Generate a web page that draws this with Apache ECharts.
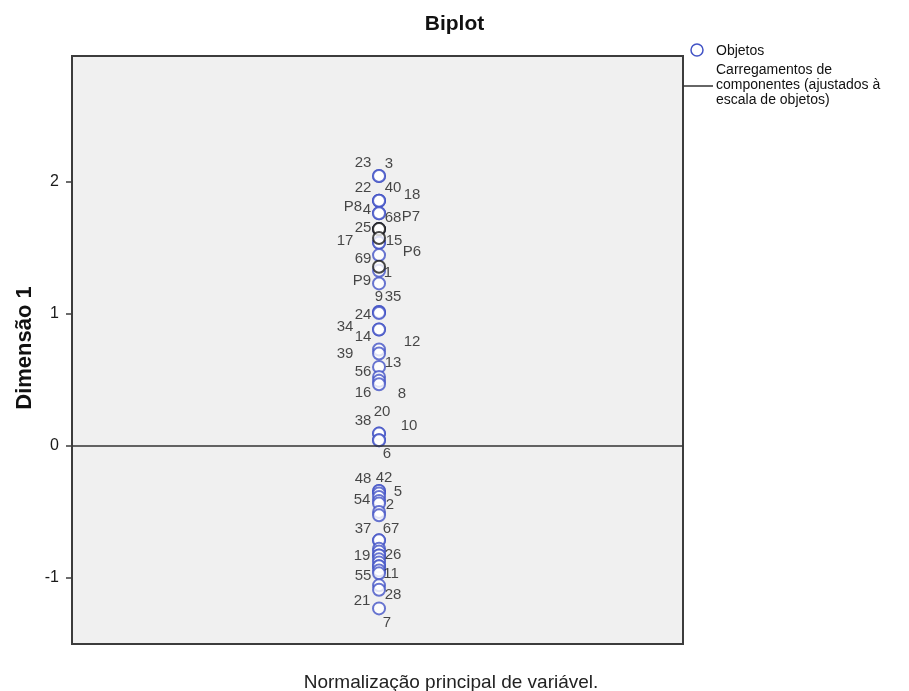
<!DOCTYPE html>
<html>
<head>
<meta charset="utf-8">
<script src="https://cdn.jsdelivr.net/npm/echarts@6/dist/echarts.min.js"></script>
<style>html,body{margin:0;padding:0;background:#fff;}#c{width:909px;height:691px;}</style>
</head>
<body>
<div id="c"></div>
<script>
// ---- data ----
var objLabels = ['3','23','22','40','18','4','68','25','17','15','69','1','9','35','24','','34','14','12','39','13','56','8','16','20','38','10','6','48','42','','5','54','','2','','37','67','','','19','26','','','55','11','','','28','21','7'];
var objY = [2.045,2.045,1.857,1.857,1.857,1.762,1.762,1.642,1.538,1.538,1.445,1.326,1.230,1.014,1.014,1.005,0.881,0.881,0.729,0.699,0.597,0.521,0.491,0.465,0.091,0.091,0.040,0.040,-0.345,-0.345,-0.364,-0.390,-0.421,-0.440,-0.504,-0.529,-0.719,-0.719,-0.782,-0.803,-0.833,-0.833,-0.863,-0.886,-0.916,-0.916,-0.947,-0.969,-1.060,-1.093,-1.235];
var objX = [0.005,0.005,0.005,0.005,0.005,0.005,0.005,0.005,0.005,0.005,0.005,0.005,0.005,0.005,0.005,0.005,0.005,0.005,0.005,0.005,0.005,0.005,0.005,0.005,0.005,0.005,0.005,0.005,0.005,0.005,0.005,0.005,0.005,0.005,0.005,0.005,0.005,0.005,0.005,0.005,0.005,0.005,0.005,0.005,0.005,0.005,0.005,0.005,0.005,0.005,0.005];
var loadLabels = ['P8','P7','P6','P9'];
var loadY = [1.642,1.642,1.574,1.356];
var loadX = [0.005,0.005,0.005,0.005];
var yTicks = [-1,0,1,2];

// ---- label placement (style only) ----
var objLabelOffsets = [[10,-12],[-16,-13],[-16,-13],[14,-13],[33,-6],[-12,-3],[14,5],[-16,-1],[-34,-2],[15,-2],[-16,4],[9,2],[0,13],[14,-15],[-16,3],[0,0],[-34,-3],[-16,7],[33,-8],[-34,0],[14,-4],[-16,-5],[23,13],[-16,9],[3,-22],[-16,-13],[30,-14],[8,14],[-16,-12],[5,-13],[0,0],[19,-5],[-17,-1],[0,0],[11,-7],[0,0],[-16,-12],[12,-12],[0,0],[0,0],[-17,0],[14,-1],[0,0],[0,0],[-16,10],[12,8],[0,0],[0,0],[14,10],[-17,11],[8,14]];
var loadLabelOffsets = [[-26,-22],[32,-12],[33,14],[-17,14]];

var FONT = 'Arial, "Liberation Sans", sans-serif';
var BLUE = '#4253c6';

function buildData(xs, ys, names, offs) {
  return ys.map(function (y, i) {
    return {
      name: names[i],
      value: [xs[i], y],
      label: { offset: offs[i] }
    };
  });
}

var chart = echarts.init(document.getElementById('c'), null, { renderer: 'canvas' });
chart.setOption({
  animation: false,
  backgroundColor: '#ffffff',
  title: {
    text: 'Biplot', left: 'center', top: 14, padding: 0,
    textStyle: { fontFamily: FONT, fontSize: 21, fontWeight: 'bold', color: '#111' }
  },
  grid: {
    left: 72, right: 226, top: 56, bottom: 47,
    show: true, backgroundColor: '#f0f0f0', borderColor: '#3c3c3c', borderWidth: 2
  },
  xAxis: {
    type: 'value', min: -1, max: 1,
    axisLine: { show: false, onZero: false }, axisTick: { show: false },
    axisLabel: { show: false }, splitLine: { show: false }
  },
  yAxis: {
    type: 'value', min: -1.505, max: 2.955,
    axisLine: { show: true, onZero: false, lineStyle: { color: '#3c3c3c', width: 2 } },
    axisTick: { show: true, length: 6, customValues: yTicks, lineStyle: { color: '#3c3c3c', width: 1.5 } },
    axisLabel: { customValues: yTicks, margin: 13, fontFamily: FONT, fontSize: 16, color: '#1a1a1a' },
    splitLine: { show: false }
  },
  series: [
    {
      name: 'Objetos',
      type: 'scatter',
      symbol: 'emptyCircle',
      symbolSize: 12,
      itemStyle: { color: BLUE, borderColor: BLUE, borderWidth: 1.5 },
      label: {
        show: true, position: 'inside', formatter: '{b}',
        fontFamily: FONT, fontSize: 15, color: '#1a1a1a', align: 'center', verticalAlign: 'middle'
      },
      data: buildData(objX, objY, objLabels, objLabelOffsets),
      markLine: {
        silent: true, symbol: 'none', label: { show: false },
        lineStyle: { color: '#333', width: 1.5, type: 'solid' },
        data: [{ yAxis: 0 }]
      },
      z: 3
    },
    {
      name: 'Carregamentos',
      type: 'scatter',
      symbol: 'emptyCircle',
      symbolSize: 12,
      itemStyle: { color: '#1a1a1a', borderColor: '#1a1a1a', borderWidth: 1.5 },
      label: {
        show: true, position: 'inside', formatter: '{b}',
        fontFamily: FONT, fontSize: 15, color: '#1a1a1a', align: 'center', verticalAlign: 'middle'
      },
      data: buildData(loadX, loadY, loadLabels, loadLabelOffsets),
      z: 4
    }
  ],
  graphic: [
    { type: 'circle', shape: { cx: 697, cy: 50, r: 6 }, style: { fill: 'none', stroke: BLUE, lineWidth: 1.5 } },
    { type: 'text', x: 716, y: 51, style: { text: 'Objetos', fontFamily: FONT, fontSize: 14, fill: '#111', verticalAlign: 'middle' } },
    { type: 'text', x: 716, y: 85, style: { text: 'Carregamentos de\ncomponentes (ajustados à\nescala de objetos)', fontFamily: FONT, fontSize: 14, lineHeight: 15, fill: '#111', verticalAlign: 'middle' } },
    { type: 'line', shape: { x1: 683, y1: 86, x2: 713, y2: 86 }, style: { stroke: '#333', lineWidth: 1.5 } },
    { type: 'text', x: 25, y: 348, rotation: Math.PI / 2, style: { text: 'Dimensão 1', fontFamily: FONT, fontSize: 22, fontWeight: 'bold', fill: '#111', align: 'center', verticalAlign: 'middle' } },
    { type: 'text', x: 451, y: 683, style: { text: 'Normalização principal de variável.', fontFamily: FONT, fontSize: 19, fill: '#222', align: 'center', verticalAlign: 'middle' } }
  ]
});
</script>
</body>
</html>
